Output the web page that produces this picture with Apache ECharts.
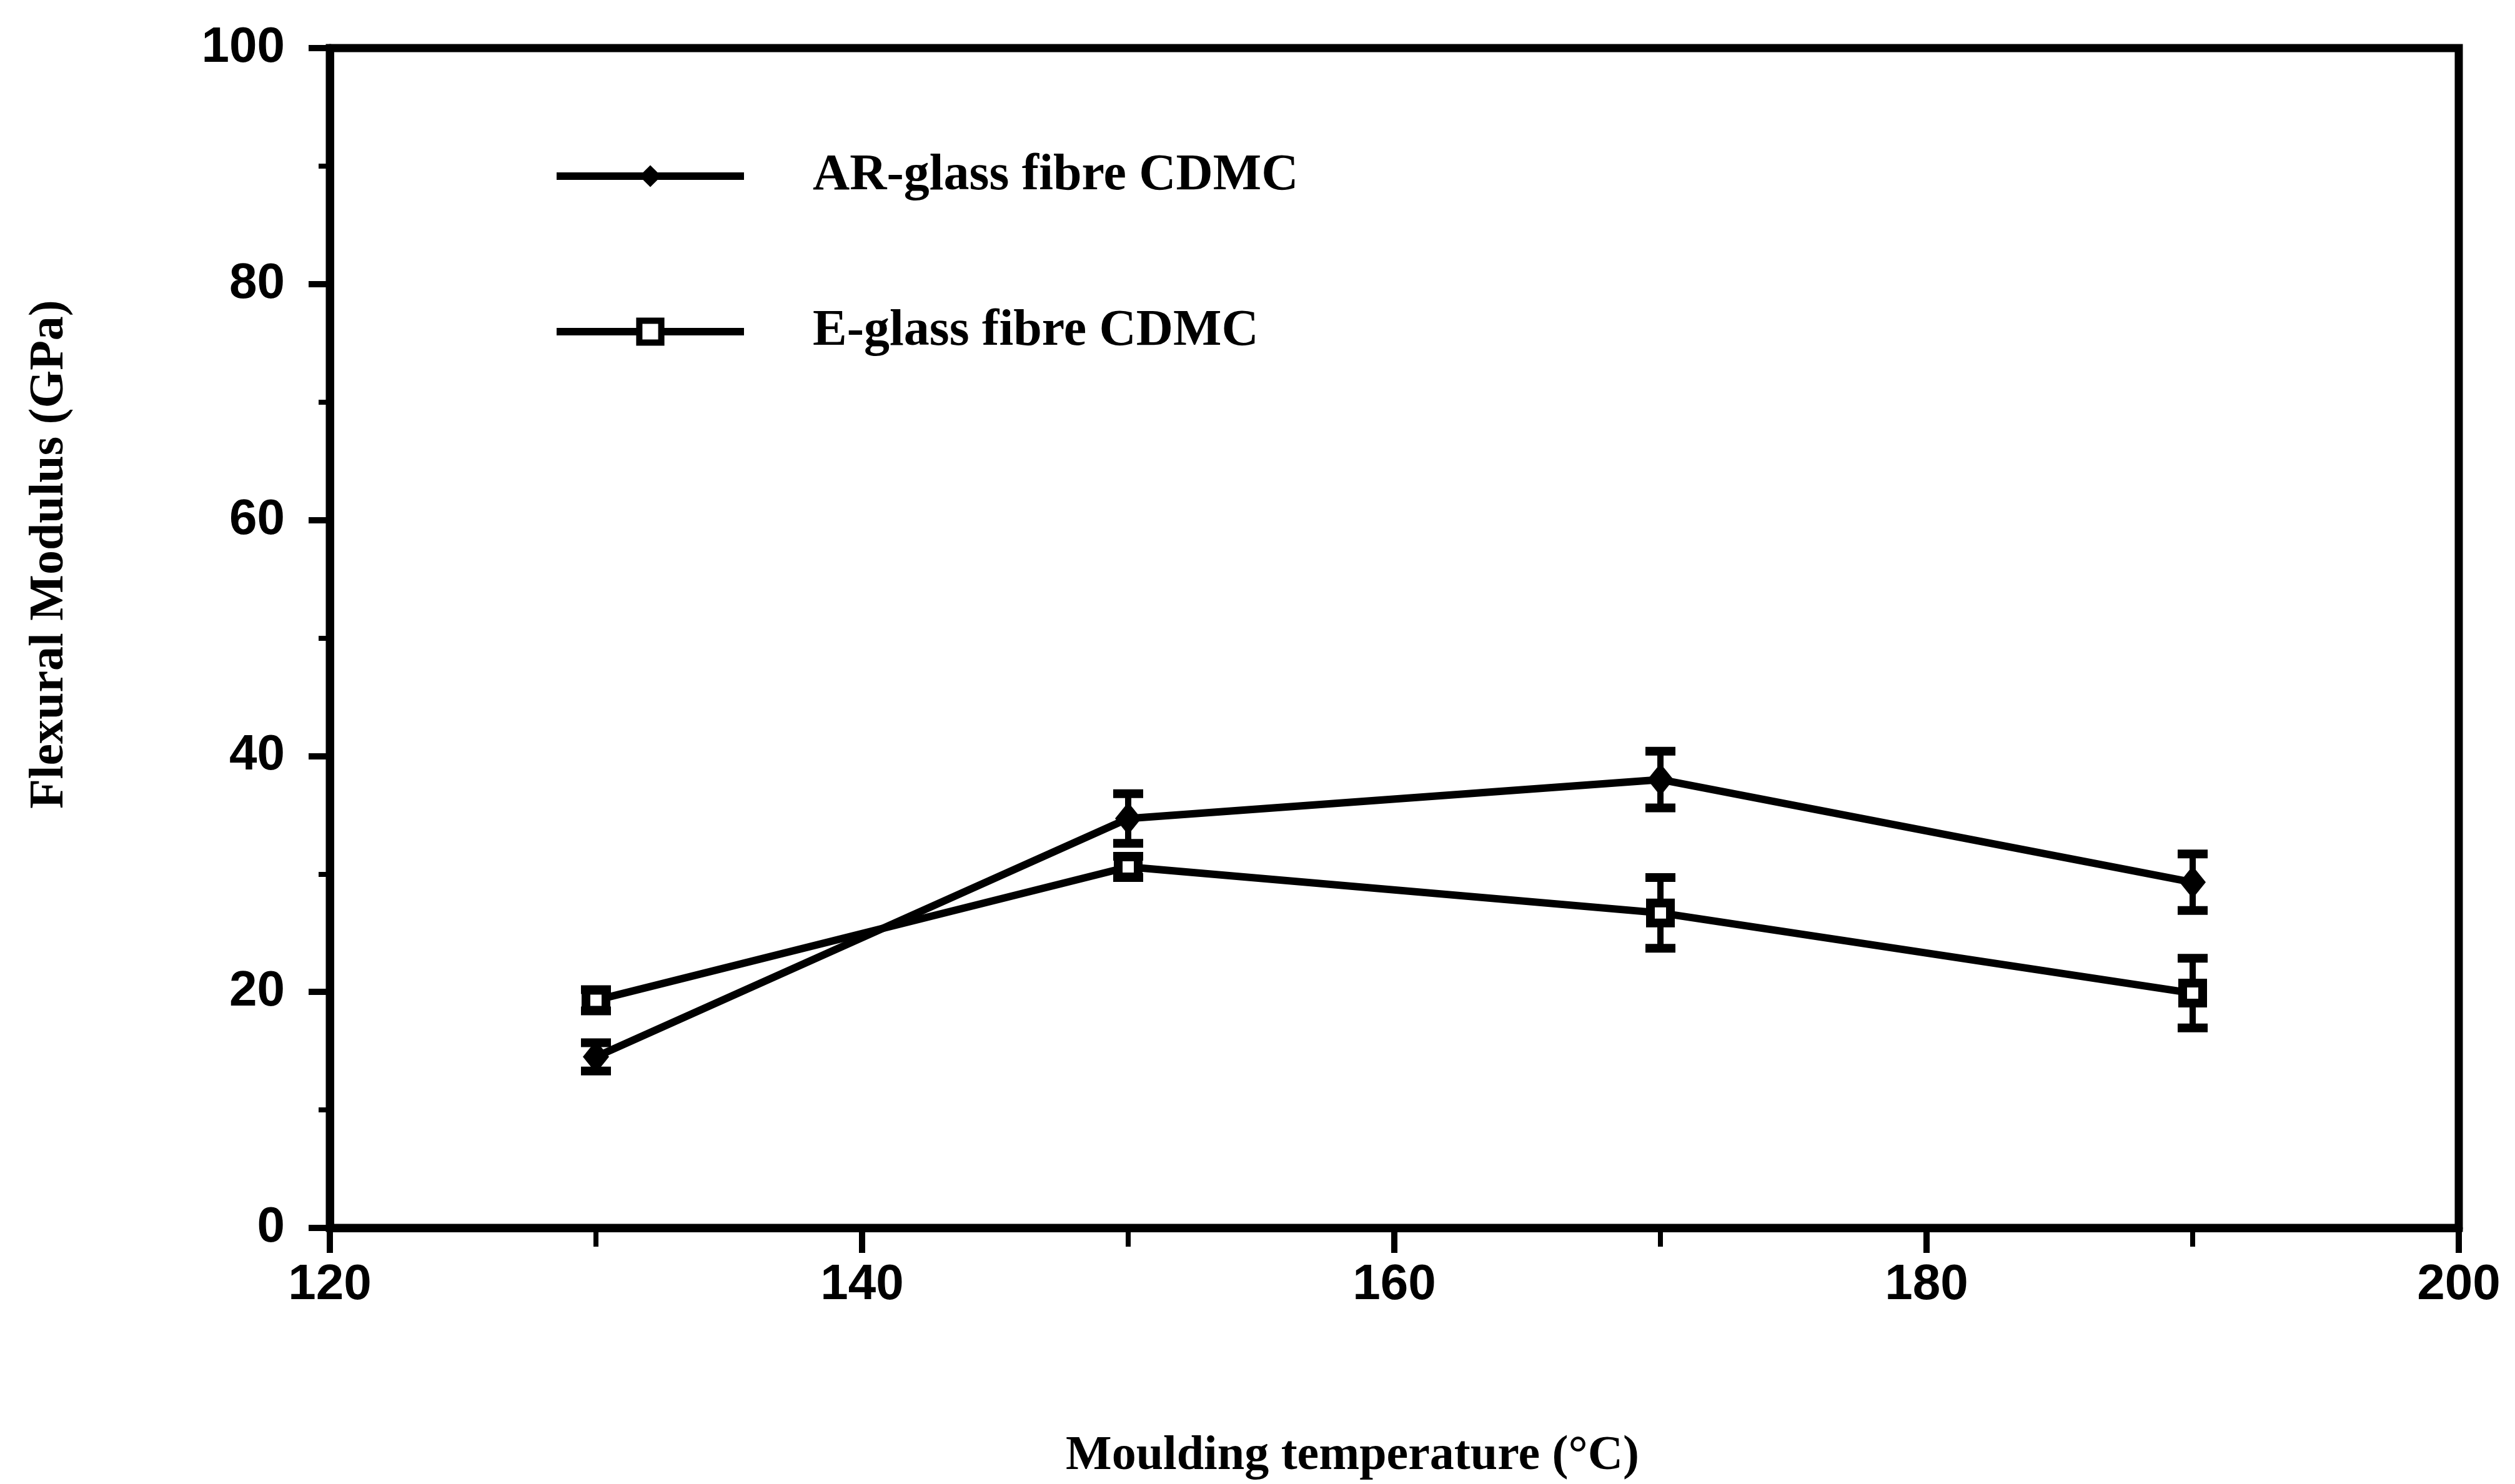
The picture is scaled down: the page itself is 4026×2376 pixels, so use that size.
<!DOCTYPE html>
<html>
<head>
<meta charset="utf-8">
<script src="https://cdn.jsdelivr.net/npm/echarts@6/dist/echarts.min.js"></script>
<style>
  html, body { margin: 0; padding: 0; background: #fff; }
  #chart { width: 4026px; height: 2376px; }
</style>
</head>
<body>
<div id="chart"></div>
<script>
// Moulding temperature (°C)
const temperatures = [130, 150, 170, 190];

// Flexural modulus (GPa), mean and ± spread
const arGlassModulus = [14.5, 34.7, 38.0, 29.3];
const arGlassSpread  = [1.2, 2.1, 2.4, 2.4];
const eGlassModulus  = [19.3, 30.6, 26.7, 19.9];
const eGlassSpread   = [0.9, 0.9, 3.0, 2.95];

const seriesNames = ['AR-glass fibre CDMC', 'E-glass fibre CDMC'];
const xTicks = { min: 120, max: 200, interval: 20 };
const yTicks = { min: 0, max: 100, interval: 20 };

const serif = "'Liberation Serif', 'Times New Roman', serif";
const sans = "'Liberation Sans Narrow', 'Liberation Sans', Arial, sans-serif";

function points(values) {
  return temperatures.map((t, i) => [t, values[i]]);
}
function ranges(values, spread) {
  return temperatures.map((t, i) => [t, values[i] - spread[i], values[i] + spread[i]]);
}

// Vertical error bar with flat caps
function renderErrorBar(params, api) {
  const x = api.value(0);
  const lo = api.coord([x, api.value(1)]);
  const hi = api.coord([x, api.value(2)]);
  const capHalf = 24;
  const capThick = 14;
  return {
    type: 'group',
    children: [
      { type: 'line', shape: { x1: lo[0], y1: lo[1], x2: hi[0], y2: hi[1] },
        style: { stroke: '#000', lineWidth: 10 } },
      { type: 'line', shape: { x1: hi[0] - capHalf, y1: hi[1], x2: hi[0] + capHalf, y2: hi[1] },
        style: { stroke: '#000', lineWidth: capThick } },
      { type: 'line', shape: { x1: lo[0] - capHalf, y1: lo[1], x2: lo[0] + capHalf, y2: lo[1] },
        style: { stroke: '#000', lineWidth: capThick } }
    ]
  };
}

const axisCommon = {
  type: 'value',
  splitLine: { show: false },
  axisLine: { show: true, onZero: false, lineStyle: { color: '#000', width: 13 } },
  axisTick: { show: true, inside: false, lineStyle: { color: '#000', width: 10 } },
  minorTick: { show: true, splitNumber: 2, lineStyle: { color: '#000', width: 8 } },
  axisLabel: { color: '#000', fontFamily: sans, fontSize: 80, fontWeight: 'bold' },
  nameLocation: 'middle',
  nameTextStyle: { color: '#000', fontFamily: serif, fontSize: 78, fontWeight: 'bold' }
};

const chart = echarts.init(document.getElementById('chart'));
chart.setOption({
  backgroundColor: '#fff',
  animation: false,
  grid: {
    left: 528, right: 90, top: 77, bottom: 410,
    show: true, borderColor: '#000', borderWidth: 13, backgroundColor: 'transparent'
  },
  legend: {
    orient: 'vertical',
    left: 880,
    top: 236,
    itemWidth: 300,
    itemHeight: 44,
    itemGap: 167,
    lineStyle: { color: '#000', width: 12 },
    data: [
      { name: seriesNames[0], itemStyle: { color: '#000', borderWidth: 0 } },
      { name: seriesNames[1], itemStyle: { color: '#fff', borderColor: '#000', borderWidth: 10 } }
    ],
    textStyle: {
      color: '#000', fontFamily: serif, fontSize: 82, fontWeight: 'bold',
      padding: [0, 0, 0, 105]
    }
  },
  xAxis: Object.assign({}, axisCommon, {
    min: xTicks.min, max: xTicks.max, interval: xTicks.interval,
    name: 'Moulding temperature (°C)',
    nameGap: 327,
    nameTextStyle: Object.assign({}, axisCommon.nameTextStyle, { padding: [0, 134, 0, 0] }),
    axisTick: Object.assign({}, axisCommon.axisTick, { length: 40 }),
    minorTick: Object.assign({}, axisCommon.minorTick, { length: 30 }),
    axisLabel: Object.assign({}, axisCommon.axisLabel, { margin: 52 })
  }),
  yAxis: Object.assign({}, axisCommon, {
    min: yTicks.min, max: yTicks.max, interval: yTicks.interval,
    name: 'Flexural Modulus (GPa)',
    nameGap: 409,
    nameTextStyle: Object.assign({}, axisCommon.nameTextStyle, { padding: [0, 0, 0, 268] }),
    axisTick: Object.assign({}, axisCommon.axisTick, { length: 34 }),
    minorTick: Object.assign({}, axisCommon.minorTick, { length: 18 }),
    axisLabel: Object.assign({}, axisCommon.axisLabel, { margin: 72 })
  }),
  series: [
    {
      type: 'custom',
      renderItem: renderErrorBar,
      data: ranges(arGlassModulus, arGlassSpread),
      encode: { x: 0, y: [1, 2] },
      z: 1,
      silent: true
    },
    {
      type: 'custom',
      renderItem: renderErrorBar,
      data: ranges(eGlassModulus, eGlassSpread),
      encode: { x: 0, y: [1, 2] },
      z: 1,
      silent: true
    },
    {
      name: seriesNames[0],
      type: 'line',
      data: points(arGlassModulus),
      symbol: 'diamond',
      symbolSize: [42, 52],
      lineStyle: { color: '#000', width: 12 },
      itemStyle: { color: '#000' },
      z: 3
    },
    {
      name: seriesNames[1],
      type: 'line',
      data: points(eGlassModulus),
      symbol: 'rect',
      symbolSize: 32,
      lineStyle: { color: '#000', width: 12 },
      itemStyle: { color: '#fff', borderColor: '#000', borderWidth: 14 },
      z: 3
    }
  ]
});
</script>
</body>
</html>
